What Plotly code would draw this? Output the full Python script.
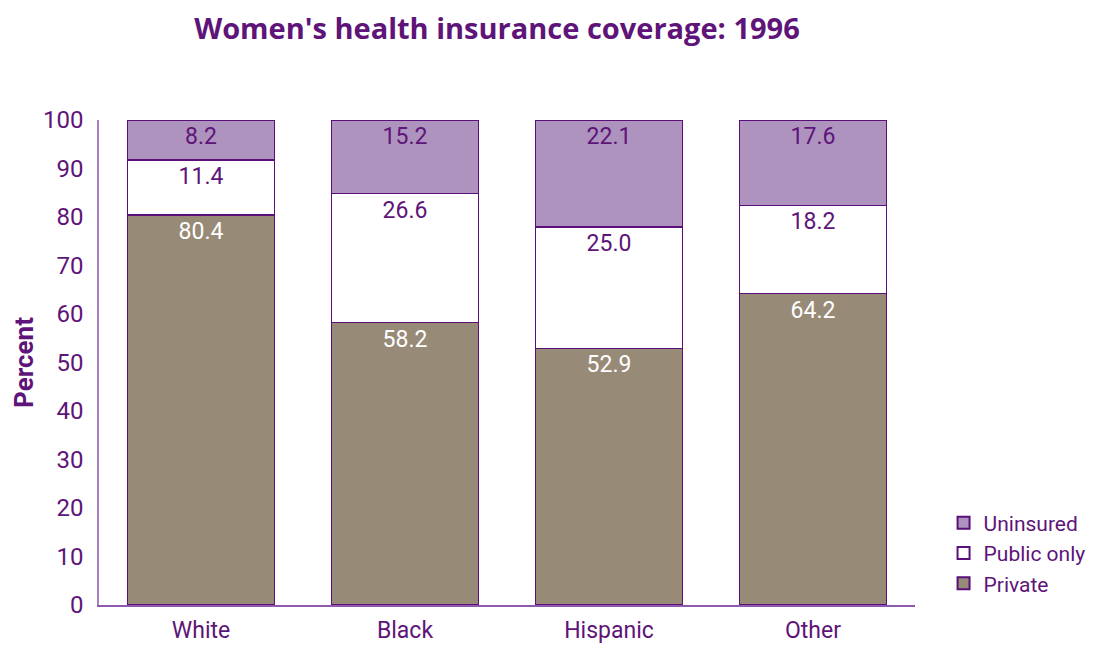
import plotly.graph_objects as go

groups = ["White", "Black", "Hispanic", "Other"]
private = [80.4, 58.2, 52.9, 64.2]
public_only = [11.4, 26.6, 25.0, 18.2]
uninsured = [8.2, 15.2, 22.1, 17.6]

PURPLE = "#5E1478"
OUTLINE = "#5B0F7A"

fig = go.Figure()
series = [
    ("Private", private, "#978A76", "white"),
    ("Public only", public_only, "white", PURPLE),
    ("Uninsured", uninsured, "#AD93BE", PURPLE),
]
for name, vals, fill, tcolor in series:
    fig.add_trace(go.Bar(
        name=name, x=groups, y=vals,
        marker=dict(color=fill, line=dict(color=OUTLINE, width=1.5)),
        text=[f"{v:.1f}" for v in vals], textposition="inside",
        insidetextanchor="end", textangle=0,
        textfont=dict(color=tcolor, size=23, family="Roboto"),
    ))

fig.update_layout(
    barmode="stack", bargap=0.28,
    width=1097, height=646,
    margin=dict(l=99, r=182, t=120, b=41, autoexpand=False),
    plot_bgcolor="white", paper_bgcolor="white",
    font=dict(family="Roboto", color=PURPLE, size=22),
    title=dict(text="<b>Women's health insurance coverage: 1996</b>",
               x=0.453, xanchor="center", y=0.955, yanchor="middle",
               font=dict(size=29, family="Open Sans", color=PURPLE)),
    legend=dict(x=1.035, y=0.107, xanchor="left", yanchor="middle",
                traceorder="reversed", font=dict(size=21),
                itemsizing="constant", tracegroupgap=0),
    uniformtext=dict(minsize=10, mode="show"),
)
fig.update_yaxes(range=[0, 100], dtick=10, showgrid=False, zeroline=False,
                 showline=True, linecolor="#A77FBF", linewidth=1.5,
                 ticks="", ticklabelstandoff=9, automargin=False,
                 title=dict(text="<b>Percent</b>", font=dict(size=26), standoff=2),
                 tickfont=dict(size=24, color=PURPLE))
fig.update_xaxes(showgrid=False, showline=True, linecolor="#8E5AAE", linewidth=1.5,
                 ticks="", automargin=False, ticklabelstandoff=4,
                 tickfont=dict(size=23, color=PURPLE))

# drop the default page margin so the figure sits flush with the window
fig.write_html("out.html", config={"displayModeBar": False},
               post_script="document.body.style.margin='0';")
